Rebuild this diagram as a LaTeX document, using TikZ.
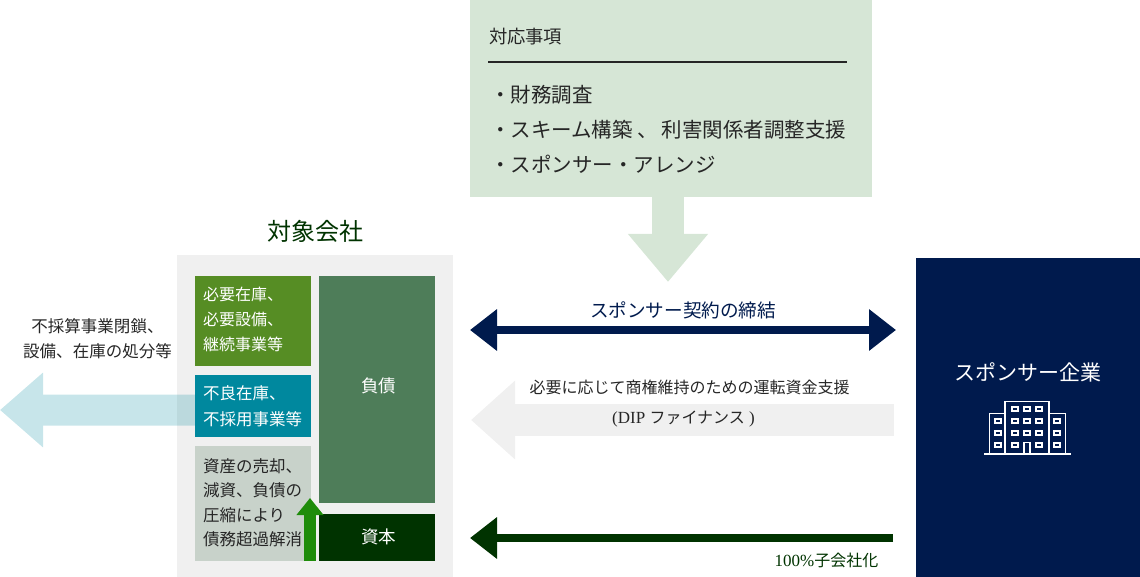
\documentclass[tikz,border=0pt]{standalone}
\usepackage{fontspec}
\setmainfont{Noto Sans CJK JP}
\newfontfamily\latinfont{Liberation Serif}
\usetikzlibrary{arrows.meta}

\definecolor{panelgreen}{HTML}{D6E6D6}
\definecolor{panelgray}{HTML}{F0F0F0}
\definecolor{leafgreen}{HTML}{568D24}
\definecolor{tealbox}{HTML}{00889E}
\definecolor{sagebox}{HTML}{C8D2CA}
\definecolor{debtgreen}{HTML}{4E7D59}
\definecolor{darkgreen}{HTML}{003300}
\definecolor{brightgreen}{HTML}{1E8C0A}
\definecolor{navybox}{HTML}{001A4D}

\tikzset{
  px/.style={font=\fontsize{#1}{#1}\selectfont},
  boxnode/.style={inner sep=0pt, outer sep=0pt},
  lbl/.style={inner sep=0pt, outer sep=0pt, align=left, text=black!85},
  lblw/.style={lbl, text=white},
}

\begin{document}
\begin{tikzpicture}[x=1pt, y=-1pt]
\useasboundingbox (0,0) rectangle (1140,577);

% panels
\node[boxnode, fill=panelgreen, minimum width=402pt, minimum height=197pt] (todo) at (671,98.5) {};
\node[boxnode, fill=panelgray, minimum width=276pt, minimum height=322pt] (company) at (315,416) {};
\node[boxnode, fill=navybox, minimum width=224pt, minimum height=319pt] (sponsor) at (1028,417.5) {};

% arrows
\coordinate (topstart) at (668,197);
\coordinate (topend) at (668,282);
\draw [-{Triangle[length=48pt, width=77pt]}, line width=32pt, panelgreen] (topstart) to (topend);

\coordinate (outstart) at (195,410);
\coordinate (outend) at (0,410);
\begin{scope}[transparency group, opacity=0.22]
\draw [-{Triangle[length=43pt, width=72pt]}, line width=31pt, tealbox] (outstart) to (outend);
\end{scope}

\coordinate (contractl) at (470,330);
\coordinate (contractr) at (896,330);
\draw [{Triangle[length=27pt, width=40pt]}-{Triangle[length=27pt, width=40pt]}, line width=8pt, navybox] (contractl) to (contractr);

\coordinate (dipstart) at (894,420);
\coordinate (dipend) at (471,420);
\draw [-{Triangle[length=44pt, width=76pt]}, line width=32pt, panelgray] (dipstart) to (dipend);

\coordinate (subsstart) at (893,538);
\coordinate (subsend) at (470,538);
\draw [-{Triangle[length=27pt, width=40pt]}, line width=8pt, darkgreen] (subsstart) to (subsend);

% balance sheet
\node[boxnode, fill=leafgreen, minimum width=116pt, minimum height=90pt] (keep) at (253,321) {};
\node[boxnode, fill=tealbox, minimum width=116pt, minimum height=62pt] (drop) at (253,406) {};
\node[boxnode, fill=sagebox, minimum width=116pt, minimum height=115pt] (cut) at (253,503.5) {};
\node[boxnode, fill=debtgreen, minimum width=116pt, minimum height=227pt] (debt) at (377,389.5) {};
\node[boxnode, fill=darkgreen, minimum width=116pt, minimum height=47pt] (equity) at (377,537.5) {};

\coordinate (upstart) at (310,561);
\coordinate (upend) at (310,498);
\draw [-{Triangle[length=17pt, width=26pt]}, line width=12pt, brightgreen] (upstart) to (upend);

% texts
\node[lbl, anchor=west, px=18.3] (todotitle) at (489,36.5) {対応事項};
\coordinate (rulel) at (488,62);
\coordinate (ruler) at (847,62);
\draw [line width=1.5pt, black!85] (rulel) to (ruler);
\node[lbl, anchor=west, px=20.5] (item1) at (490,95) {・財務調査};
\node[lbl, anchor=west, px=20.5] (item2) at (490,130) {・スキーム構築 、\hspace{4pt}利害関係者調整支援};
\node[lbl, anchor=west, px=20.5] (item3) at (490,164) {・スポンサー・アレンジ};

\node[lbl, text=darkgreen, px=24] (companyname) at (315.5,231) {対象会社};
\node[lblw, px=17.5] (debttxt) at (378.5,386) {負債};
\node[lblw, px=17.5] (equitytxt) at (378.5,536.5) {資本};
\node[lblw, anchor=west, font=\fontsize{16}{25}\selectfont] (keeptxt) at (203,319.5) {必要在庫、\\必要設備、\\継続事業等};
\node[lblw, anchor=west, font=\fontsize{16.5}{26}\selectfont] (droptxt) at (203,406) {不良在庫、\\不採用事業等};
\node[lbl, anchor=west, font=\fontsize{16.5}{24.5}\selectfont] (cuttxt) at (203,503) {資産の売却、\\減資、負債の\\圧縮により\\債務超過解消};
\node[lbl, align=center, font=\fontsize{16.5}{25}\selectfont] (closetxt) at (97.5,339) {不採算事業閉鎖、\\設備、在庫の処分等};
\node[lbl, text=navybox, px=18.6] (contracttxt) at (683,310) {スポンサー契約の締結};
\node[lbl, px=16] (diptxt1) at (689.5,387) {必要に応じて商権維持のための運転資金支援};
\node[lbl, px=16] (diptxt2) at (683.5,419) {{\latinfont\fontsize{17}{17}\selectfont (DIP }ファイナンス{\latinfont\fontsize{17}{17}\selectfont\ )}};
\node[lbl, text=darkgreen, px=16] (substxt) at (826.5,560) {{\latinfont\fontsize{17}{17}\selectfont 100\%}子会社化};
\node[lblw, px=21] (sponsortxt) at (1028,372) {スポンサー企業};

% building icon
\begin{scope}[white, line width=1.6pt]
\draw (1005,454) -- (1005,401.5) -- (1049,401.5) -- (1049,454);
\draw (1005,413.5) -- (989.5,413.5) -- (989.5,454);
\draw (1049,413.5) -- (1065.5,413.5) -- (1065.5,454);
\draw [line width=2pt] (984,454) -- (1071,454);
\draw (1024,454) -- (1024,442.5) -- (1030,442.5) -- (1030,454);
\foreach \x in {1015,1027,1039} \foreach \y in {409,421,433}
  \draw [line width=2pt] (\x-3,\y-2) rectangle (\x+3,\y+2);
\foreach \x in {1015,1039}
  \draw [line width=2pt] (\x-3,443) rectangle (\x+3,447);
\foreach \x in {998,1057} \foreach \y in {421,433,445}
  \draw [line width=2pt] (\x-3,\y-2) rectangle (\x+3,\y+2);
\end{scope}

\end{tikzpicture}
\end{document}
